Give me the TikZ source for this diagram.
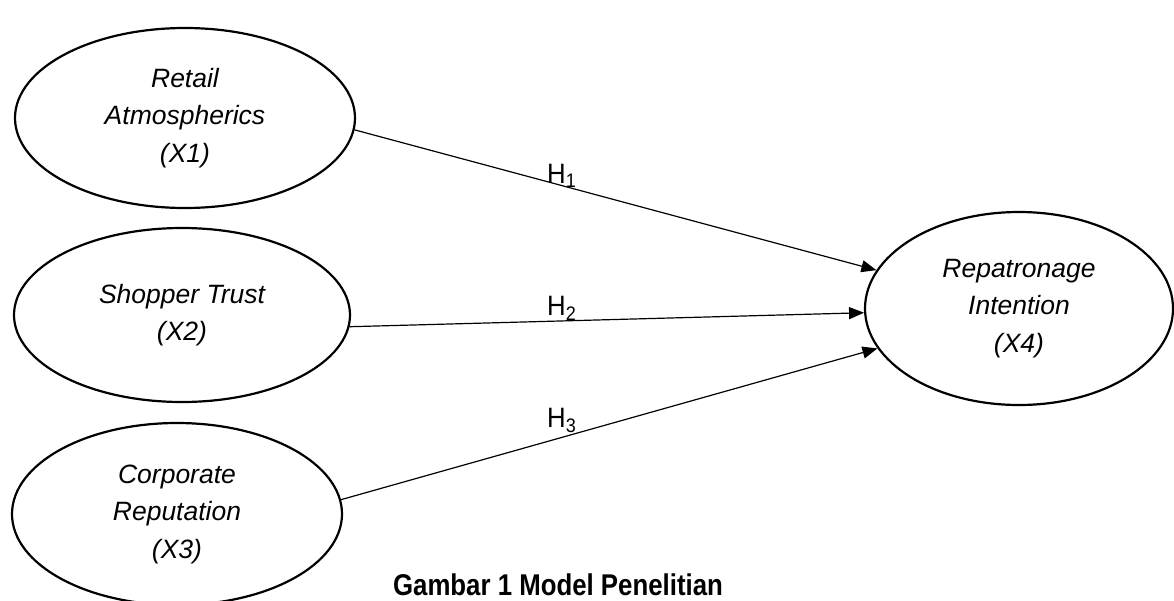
\documentclass[tikz,border=0pt]{standalone}
\usepackage{fontspec}
\setmainfont{Liberation Sans}
\usetikzlibrary{shapes.geometric,arrows.meta}
\begin{document}
\begin{tikzpicture}[x=1pt,y=-1pt,
  var/.style={ellipse,draw,line width=2.2pt,inner sep=0pt,align=center,
    font=\fontsize{26.5}{37.5}\selectfont\itshape},
  path/.style={line width=1.2pt,-{Triangle[length=15pt,width=12pt]}},
  hlab/.style={anchor=base west,inner sep=0pt,font=\fontsize{28}{32}\selectfont}]
\useasboundingbox (0,0) rectangle (1174,600);
\node[var,minimum width=340pt,minimum height=180pt] (ret) at (185,118) {Retail\\Atmospherics\\(X1)};
\node[var,minimum width=336pt,minimum height=174pt] (sho) at (182,315) {Shopper Trust\\(X2)};
\node[var,minimum width=330pt,minimum height=182pt] (cor) at (177,514) {Corporate\\Reputation\\(X3)};
\node[var,minimum width=308pt,minimum height=193pt] (rep) at (1019,308.5) {Repatronage\\Intention\\(X4)};
\draw[path] (ret.-4) -- (rep);
\draw[path] (sho.-4.5) -- (rep);
\draw[path] (cor.5) -- (rep);
\node[hlab] (h1) at (547,183) {\scalebox{0.92}[1]{H\textsubscript{1}}};
\node[hlab] (h2) at (547,315) {\scalebox{0.92}[1]{H\textsubscript{2}}};
\node[hlab] (h3) at (547,427) {\scalebox{0.92}[1]{H\textsubscript{3}}};
\node[anchor=base,inner sep=0pt] (cap) at (558,595) {\scalebox{0.86}[1]{\fontsize{30}{34}\selectfont\bfseries Gambar 1 Model Penelitian}};
\end{tikzpicture}
\end{document}
